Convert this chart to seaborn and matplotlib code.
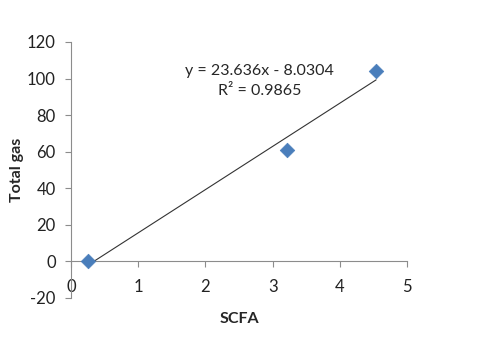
import matplotlib
matplotlib.use("Agg")
import matplotlib.pyplot as plt
import seaborn as sns
import numpy as np
import pandas as pd

# datos
scfa = [0.25, 3.21, 4.54]
total_gas = [0.3, 60.8, 104.2]
pendiente = 23.636
intercepto = -8.0304
r2 = 0.9865

sns.set_style("white")
plt.rcParams['font.family'] = ['Lato', 'DejaVu Sans']
plt.rcParams['axes.unicode_minus'] = False

df = pd.DataFrame({'SCFA': scfa, 'Total gas': total_gas})
xs = np.array([min(scfa), max(scfa)])
df_linea = pd.DataFrame({'x': xs, 'y': pendiente * xs + intercepto})

fig = plt.figure(figsize=(4.8, 3.44), dpi=100)
ax = fig.add_axes([0.148, 0.134, 0.7, 0.744])

sns.lineplot(data=df_linea, x='x', y='y', color='#333333', linewidth=0.8, ax=ax)
sns.scatterplot(data=df, x='SCFA', y='Total gas', marker='D', s=55, color='#4A7EBB',
                edgecolor='#4A7EBB', linewidth=0.5, ax=ax, zorder=3)

ax.set_xlim(0, 5)
ax.set_ylim(-20, 120)
ax.set_xticks(range(0, 6))
ax.set_yticks(range(-20, 121, 20))

gris = '#8c8c8c'
for s in ['top', 'right']:
    ax.spines[s].set_visible(False)
ax.spines['left'].set_color(gris)
ax.spines['bottom'].set_color(gris)
ax.spines['bottom'].set_position(('data', 0))
ax.tick_params(axis='both', colors=gris, labelcolor='#222222', labelsize=12,
               length=4, width=0.8, direction='out', left=True, bottom=True)
ax.tick_params(axis='x', pad=9)
ax.tick_params(axis='y', pad=7)

ax.set_xlabel('SCFA', fontsize=11.5, fontweight='bold')
ax.set_ylabel('Total gas', fontsize=11.5, fontweight='bold')
ax.xaxis.set_label_coords(0.5, -0.055)
ax.yaxis.set_label_coords(-0.14, 0.5)

ax.text(2.8, 104, 'y = 23.636x - 8.0304', ha='center', va='center', fontsize=11.5)
ax.text(2.8, 93, 'R² = ' + str(r2), ha='center', va='center', fontsize=11.5)

fig.savefig('out.png', dpi=100)
